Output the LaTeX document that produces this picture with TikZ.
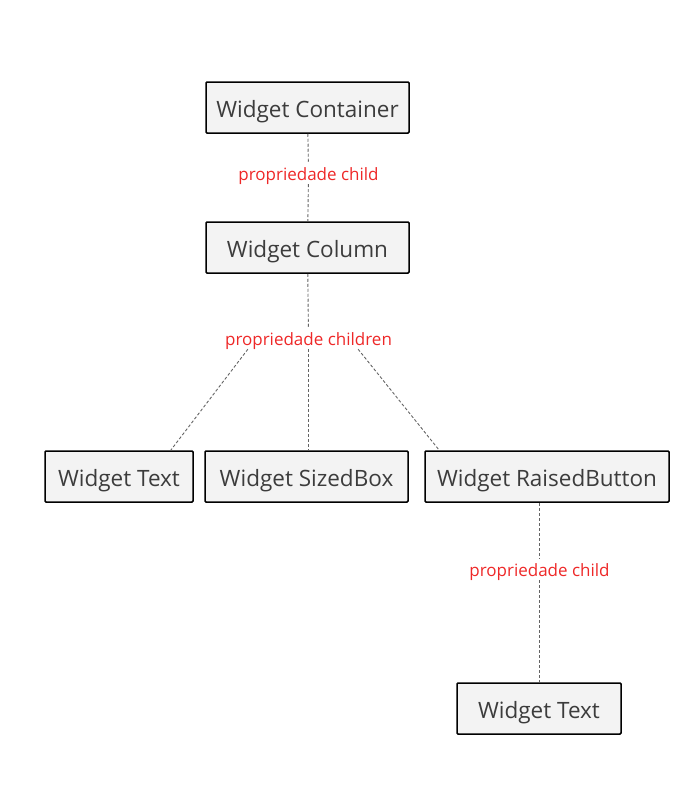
\documentclass[tikz,border=0pt]{standalone}
\usepackage{fontspec}
\setmainfont{Open Sans}
\usetikzlibrary{positioning}
\definecolor{BoxFill}{RGB}{243,243,243}
\definecolor{TextGray}{RGB}{60,60,60}
\definecolor{LabelRed}{RGB}{238,40,40}
\definecolor{LineGray}{RGB}{100,100,100}

\begin{document}
\begin{tikzpicture}[x=1pt, y=-1pt,
    widget/.style={rectangle, draw=black, line width=1.5pt, fill=BoxFill, rounded corners=1pt,
        minimum height=51pt, text height=19pt, text depth=0pt, text=TextGray,
        font=\fontsize{22.5}{26}\selectfont},
    prop/.style={text=LabelRed, inner sep=4pt, text height=13pt, text depth=0pt,
        font=\fontsize{17}{20}\selectfont},
    link/.style={draw=LineGray, line width=0.9pt, dash pattern=on 3pt off 2pt}]
    \useasboundingbox (0,0) rectangle (700,800);
    % Container
    \node[widget, minimum width=203pt] (container) at (307.5,107.5) {Widget Container};
    \node[prop] (childA) at (308.5,173.5) {propriedade child};
    \node[widget, minimum width=203pt] (column) at (307.5,247.5) {Widget Column};
    \draw[link] (container) -- (childA);
    \draw[link] (childA) -- (column);

    % Column children
    \node[prop] (children) at (308.5,338.5) {propriedade children};
    \node[widget, minimum width=148pt] (text1) at (119,476.5) {Widget Text};
    \node[widget, minimum width=203pt] (sizedbox) at (306.5,476.5) {Widget SizedBox};
    \node[widget, minimum width=244pt] (button) at (547,476.5) {Widget RaisedButton};
    \draw[link] (column) -- (children);
    \draw[link] ([xshift=27pt]children.south west) -- ([xshift=-23pt]text1.north east);
    \draw[link] (children.south) -- (children.south |- sizedbox.north);
    \draw[link] ([xshift=-38pt]children.south east) -- ([xshift=15pt]button.north west);

    % RaisedButton child
    \node[prop] (childB) at (539.5,569.5) {propriedade child};
    \node[widget, minimum width=164pt] (text2) at (539,708.5) {Widget Text};
    \draw[link] (button.south -| childB) -- (childB);
    \draw[link] (childB) -- (childB |- text2.north);
\end{tikzpicture}
\end{document}
